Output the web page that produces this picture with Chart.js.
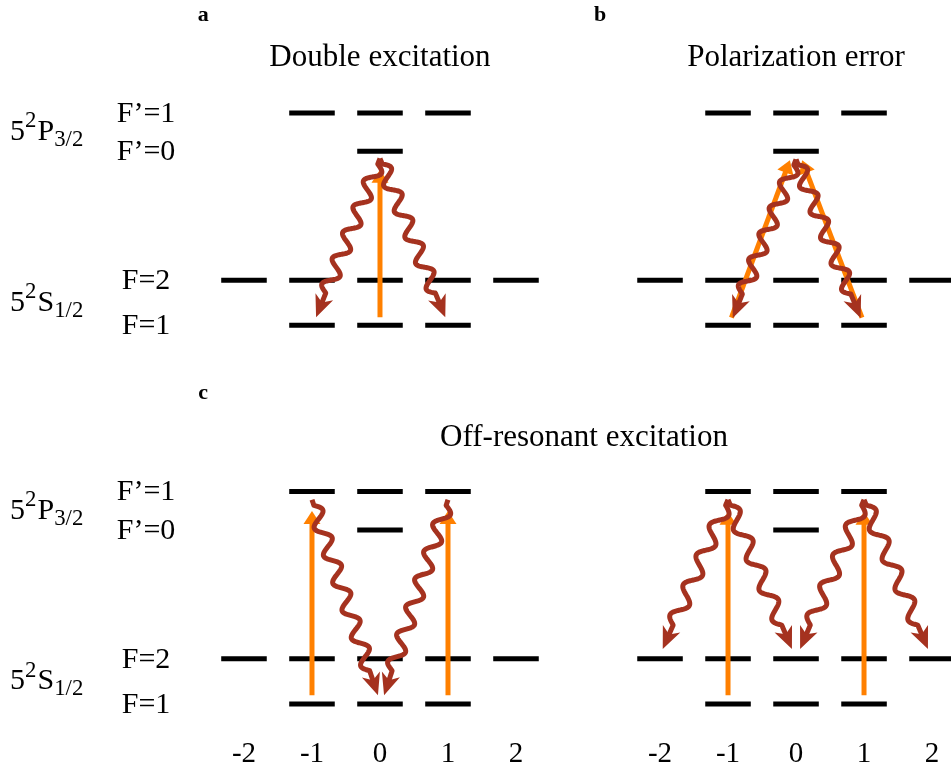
<!DOCTYPE html>
<html>
<head>
<meta charset="utf-8">
<title>Rb-87 level scheme</title>
<script src="https://cdn.jsdelivr.net/npm/chart.js@4.4.0/dist/chart.umd.min.js"></script>
<style>
  html, body { margin: 0; padding: 0; background: #fff; }
  #wrap { width: 951px; height: 778px; }
</style>
</head>
<body>
<div id="wrap"><canvas id="levels"></canvas></div>
<script>
// Zeeman sublevels m_F on the x axis, energy (in units of the F=1 -> F=2 gap as drawn) on y.
const mTicks = [-2, -1, 0, 1, 2];
const tickLabels = ['-2', '-1', '0', '1', '2'];

const levelLabels = ['F=1', 'F=2', 'F\u2019=0', 'F\u2019=1'];
const levelEnergies = [0, 1, 3.86, 4.71];
const levelSublevels = [[-1, 0, 1], [-2, -1, 0, 1, 2], [0], [-1, 0, 1]];

const panelTitles = ['Double excitation', 'Polarization error', 'Off-resonant excitation'];
const panelLetters = ['a', 'b', 'c'];
// four diagrams: a (top left), b (top right), c (bottom left + bottom right)
const panelShiftX = [0, 6.118, 0, 6.118];
const panelShiftY = [0, 0, -8.4, -8.4];

// laser drive (orange): [panel, m start, E start, m tip, E tip]
const pumpArrows = [
  [0, 0, 0.18, 0, 3.45],
  [1, -0.95, 0.17, -0.09, 3.66],
  [1, 0.97, 0.17, 0.09, 3.66],
  [2, -1, 0.19, -1, 4.28],
  [2, 1, 0.19, 1, 4.28],
  [3, -1, 0.19, -1, 4.26],
  [3, 1, 0.19, 1, 4.26],
];
// spontaneous decay (wavy): [panel, m start, E start, m tip, E tip]
const decayArrows = [
  [0, 0, 3.7, -0.94, 0.18],
  [0, 0, 3.7, 0.96, 0.18],
  [1, 0, 3.68, -0.93, 0.16],
  [1, 0, 3.68, 0.95, 0.16],
  [2, -1, 4.53, -0.03, 0.19],
  [2, 1, 4.53, 0.06, 0.19],
  [3, -1, 4.53, -1.96, 1.22],
  [3, -1, 4.53, -0.06, 1.22],
  [3, 1, 4.53, 0.06, 1.22],
  [3, 1, 4.53, 1.94, 1.22],
];

// layout
const X_MIN = -5.588, X_MAX = 8.397;
const Y_MIN = -9.006, Y_MAX = 7.216;
const HALF = 0.335;            // half width of a level dash
const SERIF = '"Liberation Serif", "Times New Roman", serif';
const ORANGE = '#ff8000';
const RUST = '#a5321f';

const tickPositions = [2, 3].flatMap(p => mTicks.map(m => m + panelShiftX[p]));

const levelSets = levelLabels.map((name, i) => {
  const pts = [];
  panelShiftX.forEach((sx, p) => {
    const e = levelEnergies[i] + panelShiftY[p];
    levelSublevels[i].forEach(m => {
      pts.push({ x: m + sx - HALF, y: e }, { x: m + sx + HALF, y: e }, { x: m + sx, y: null });
    });
  });
  return {
    label: name, data: pts, showLine: true, spanGaps: false,
    borderColor: '#000', borderWidth: 5, borderCapStyle: 'butt',
    pointRadius: 0, order: 3,
  };
});

function arrowSet(kind) {
  return ([p, m0, e0, m1, e1]) => ({
    label: kind, kind,
    data: [
      { x: m0 + panelShiftX[p], y: e0 + panelShiftY[p] },
      { x: m1 + panelShiftX[p], y: e1 + panelShiftY[p] },
    ],
    showLine: false, pointRadius: 0, order: 1,
  });
}

function drawPump(ctx, x0, y0, x1, y1) {
  const L = Math.hypot(x1 - x0, y1 - y0);
  const ux = (x1 - x0) / L, uy = (y1 - y0) / L, nx = -uy, ny = ux;
  const h = 13, w = 8.5;
  ctx.strokeStyle = ORANGE;
  ctx.fillStyle = ORANGE;
  ctx.lineWidth = 5;
  ctx.lineCap = 'butt';
  ctx.beginPath();
  ctx.moveTo(x0, y0);
  ctx.lineTo(x1 - ux * (h - 2), y1 - uy * (h - 2));
  ctx.stroke();
  ctx.beginPath();
  ctx.moveTo(x1, y1);
  ctx.lineTo(x1 - ux * h + nx * w, y1 - uy * h + ny * w);
  ctx.lineTo(x1 - ux * h - nx * w, y1 - uy * h - ny * w);
  ctx.closePath();
  ctx.fill();
}

function drawDecay(ctx, x0, y0, x1, y1) {
  const L = Math.hypot(x1 - x0, y1 - y0);
  const ux = (x1 - x0) / L, uy = (y1 - y0) / L, nx = -uy, ny = ux;
  const head = 22, w = 9.5, pre = 6, post = 4, amp = 7, lambda0 = 30;
  const waveLen = L - head - pre - post;
  const periods = Math.max(1, Math.round(waveLen / lambda0));
  const lambda = waveLen / periods;
  ctx.strokeStyle = RUST;
  ctx.fillStyle = RUST;
  ctx.lineWidth = 5;
  ctx.lineJoin = 'round';
  ctx.lineCap = 'butt';
  ctx.beginPath();
  ctx.moveTo(x0, y0);
  const end = L - head + 7;
  for (let s = 0; s <= end; s += 0.5) {
    let off = 0;
    if (s > pre && s < pre + waveLen) off = -amp * Math.sin(2 * Math.PI * (s - pre) / lambda);
    ctx.lineTo(x0 + ux * s + nx * off, y0 + uy * s + ny * off);
  }
  ctx.stroke();
  // stealth head
  ctx.beginPath();
  ctx.moveTo(x1, y1);
  ctx.lineTo(x1 - ux * head + nx * w, y1 - uy * head + ny * w);
  ctx.lineTo(x1 - ux * head * 0.72, y1 - uy * head * 0.72);
  ctx.lineTo(x1 - ux * head - nx * w, y1 - uy * head - ny * w);
  ctx.closePath();
  ctx.fill();
}

const arrowPlugin = {
  id: 'arrows',
  afterDatasetsDraw(chart) {
    const { ctx } = chart;
    ctx.save();
    ['pump', 'decay'].forEach(kind => {
      chart.data.datasets.forEach((ds, i) => {
        if (ds.kind !== kind) return;
        const [a, b] = chart.getDatasetMeta(i).data;
        if (kind === 'pump') drawPump(ctx, a.x, a.y, b.x, b.y);
        else drawDecay(ctx, a.x, a.y, b.x, b.y);
      });
    });
    ctx.restore();
  },
};

// rich text: pieces [text, role] where role 0 = normal, 1 = superscript, -1 = subscript
function drawRich(ctx, pieces, x, y, size) {
  let cx = x;
  pieces.forEach(([t, role]) => {
    const s = role === 0 ? size : size * 0.76;
    ctx.font = `${s}px ${SERIF}`;
    const dy = role === 1 ? -size * 0.36 : role === -1 ? size * 0.26 : 0;
    ctx.fillText(t, cx, y + dy);
    cx += ctx.measureText(t).width + (role === 1 ? 1 : 0);
  });
}

const textPlugin = {
  id: 'texts',
  afterDraw(chart) {
    const { ctx } = chart;
    const xs = chart.scales.x, ys = chart.scales.y;
    const px = (p, m) => xs.getPixelForValue(m + panelShiftX[p]);
    const py = (p, e) => ys.getPixelForValue(e + panelShiftY[p]);
    ctx.save();
    ctx.fillStyle = '#000';

    // panel letters
    ctx.font = `bold 22px ${SERIF}`;
    ctx.textAlign = 'center';
    ctx.textBaseline = 'alphabetic';
    ctx.fillText(panelLetters[0], px(0, -2.6), py(0, 6.74));
    ctx.fillText(panelLetters[1], px(1, -2.88), py(1, 6.74));
    ctx.fillText(panelLetters[2], px(2, -2.6), py(2, 6.76));

    // titles
    ctx.font = `31px ${SERIF}`;
    ctx.fillText(panelTitles[0], px(0, 0), py(0, 5.75));
    ctx.fillText(panelTitles[1], px(1, 0), py(1, 5.75));
    ctx.fillText(panelTitles[2], px(2, 3.0), py(2, 5.72));

    // level names (left diagrams only)
    ctx.textBaseline = 'middle';
    [0, 2].forEach(p => {
      ctx.font = `30px ${SERIF}`;
      ctx.textAlign = 'center';
      levelLabels.forEach((name, i) => {
        ctx.fillText(name, px(p, -3.44), py(p, levelEnergies[i]) + 1);
      });
      ctx.textAlign = 'left';
      const eP = (levelEnergies[2] + levelEnergies[3]) / 2;
      const eS = (levelEnergies[0] + levelEnergies[1]) / 2;
      drawRich(ctx, [['5', 0], ['2', 1], ['P', 0], ['3/2', -1]], px(p, -5.44), py(p, eP), 30);
      drawRich(ctx, [['5', 0], ['2', 1], ['S', 0], ['1/2', -1]], px(p, -5.44), py(p, eS), 30);
    });
    ctx.restore();
  },
};

new Chart(document.getElementById('levels'), {
  type: 'scatter',
  data: {
    datasets: [
      ...levelSets,
      ...pumpArrows.map(arrowSet('pump')),
      ...decayArrows.map(arrowSet('decay')),
    ],
  },
  options: {
    responsive: true,
    maintainAspectRatio: false,
    animation: false,
    events: [],
    layout: { padding: 0 },
    plugins: { legend: { display: false }, tooltip: { enabled: false } },
    scales: {
      x: {
        type: 'linear', min: X_MIN, max: X_MAX,
        grid: { display: false, drawTicks: false },
        border: { display: false },
        afterBuildTicks: s => { s.ticks = tickPositions.map(v => ({ value: v })); },
        ticks: {
          autoSkip: false, maxRotation: 0, padding: 6, color: '#000',
          font: { family: SERIF, size: 29, lineHeight: 1.2 },
          callback: (v, i) => tickLabels[i % tickLabels.length],
        },
      },
      y: { type: 'linear', display: false, min: Y_MIN, max: Y_MAX },
    },
  },
  plugins: [arrowPlugin, textPlugin],
});
</script>
</body>
</html>
